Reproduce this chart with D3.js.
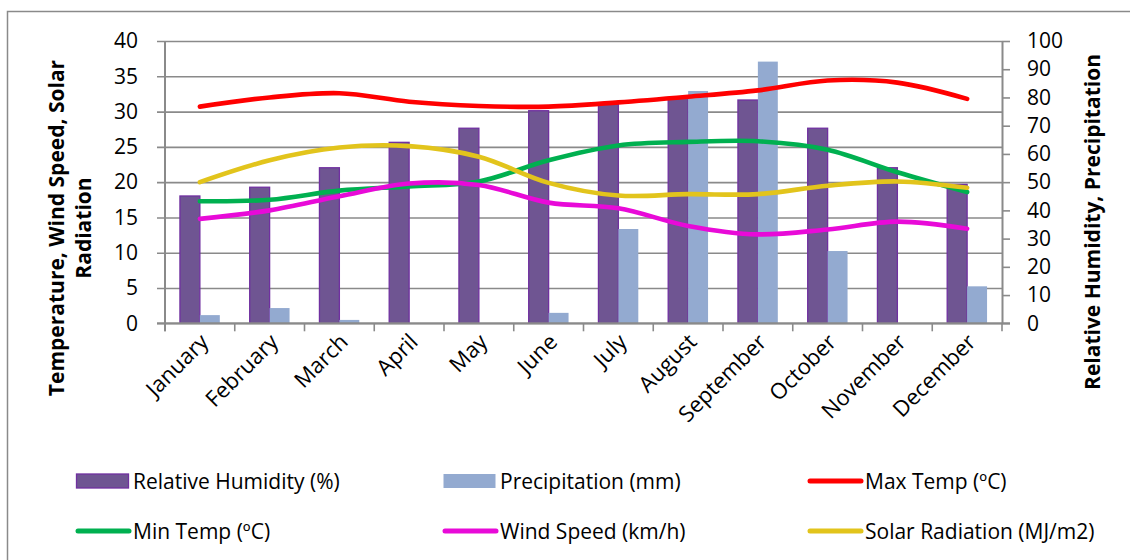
<!DOCTYPE html>
<html>
<head>
<meta charset="utf-8">
<script src="https://cdn.jsdelivr.net/npm/d3@7"></script>
<style>
  html, body { margin: 0; padding: 0; background: #fff; }
  svg { display: block; }
  text { font-family: "Open Sans", Lato, sans-serif; fill: #000; }
</style>
</head>
<body>
<svg id="chart" width="1130" height="560"></svg>
<script>
// Monthly climate data
const months = ["January", "February", "March", "April", "May", "June",
                "July", "August", "September", "October", "November", "December"];

// Right axis (bars)
const humidity      = [45.1, 48.2, 55.1, 64.1, 69.1, 75.3, 77.7, 80.0, 79.1, 69.1, 55.1, 49.2];
const precipitation = [2.9, 5.4, 1.2, 0, 0, 3.7, 33.4, 82.3, 92.7, 25.6, 0, 13.1];

// Left axis (smoothed lines)
const maxTemp = [30.7, 32.0, 32.6, 31.4, 30.8, 30.7, 31.3, 32.1, 33.0, 34.4, 34.1, 31.8];
const minTemp = [17.3, 17.5, 18.8, 19.4, 20.1, 23.1, 25.2, 25.7, 25.8, 24.6, 21.4, 18.6];
const windSpeed = [14.8, 16.0, 18.0, 19.8, 19.6, 17.1, 16.3, 13.8, 12.6, 13.3, 14.4, 13.4];
const solarRad  = [20.0, 23.1, 24.9, 25.1, 23.6, 19.9, 18.1, 18.3, 18.3, 19.5, 20.1, 19.2];

const leftTicks  = [0, 5, 10, 15, 20, 25, 30, 35, 40];
const rightTicks = [0, 10, 20, 30, 40, 50, 60, 70, 80, 90, 100];

const svg = d3.select("#chart");
const W = 1130, H = 560;
const plot = { left: 165, right: 1002, top: 41, bottom: 323.3 };
const gridColor = "#8a8a8a";

// Outer chart frame
svg.append("rect")
  .attr("x", 7.5).attr("y", 11.5)
  .attr("width", W).attr("height", H)
  .attr("fill", "#fff")
  .attr("stroke", "#8a8a8a").attr("stroke-width", 1.5);

const x = d3.scaleBand().domain(months).range([plot.left, plot.right]).paddingInner(0).paddingOuter(0);
const yL = d3.scaleLinear().domain([0, 40]).range([plot.bottom, plot.top]);
const yR = d3.scaleLinear().domain([0, 100]).range([plot.bottom, plot.top]);

// Horizontal gridlines with left tick marks
const leftAxis = d3.axisLeft(yL).tickValues(leftTicks)
  .tickSize(-(plot.right - plot.left)).tickSizeOuter(0).tickPadding(27);
const gL = svg.append("g").attr("transform", `translate(${plot.left},0)`).call(leftAxis);
gL.select(".domain").remove();
gL.selectAll(".tick line")
  .attr("x1", -8).attr("x2", plot.right - plot.left)
  .attr("stroke", gridColor).attr("stroke-width", 1.6);
gL.selectAll(".tick text").attr("font-size", 21).attr("fill", "#000");

// Left axis line
svg.append("line")
  .attr("x1", plot.left).attr("x2", plot.left)
  .attr("y1", plot.top).attr("y2", plot.bottom + 8)
  .attr("stroke", gridColor).attr("stroke-width", 2);

// Right axis
const rightAxis = d3.axisRight(yR).tickValues(rightTicks).tickSize(8).tickSizeOuter(0).tickPadding(17);
const gR = svg.append("g").attr("transform", `translate(${plot.right},0)`).call(rightAxis);
gR.select(".domain").attr("stroke", gridColor).attr("stroke-width", 2);
gR.selectAll(".tick line").attr("stroke", gridColor).attr("stroke-width", 1.6);
gR.selectAll(".tick text").attr("font-size", 21).attr("fill", "#000");

// Bars (right axis)
const barW = x.bandwidth() / 3.5;
const barOff = barW * 0.75;
const bars = svg.append("g");
bars.selectAll("rect.hum").data(months).join("rect")
  .attr("class", "hum")
  .attr("x", d => x(d) + barOff)
  .attr("y", (d, i) => yR(humidity[i]))
  .attr("width", barW)
  .attr("height", (d, i) => yR(0) - yR(humidity[i]))
  .attr("fill", "#6f5592").attr("stroke", "#7030a0").attr("stroke-width", 1.3);
bars.selectAll("rect.pre").data(months).join("rect")
  .attr("class", "pre")
  .attr("x", d => x(d) + barOff + barW)
  .attr("y", (d, i) => yR(precipitation[i]))
  .attr("width", barW)
  .attr("height", (d, i) => yR(0) - yR(precipitation[i]))
  .attr("fill", "#93aad0");

// Category axis
const xAxis = d3.axisBottom(x).tickSize(0).tickFormat("");
const gX = svg.append("g").attr("transform", `translate(0,${plot.bottom})`).call(xAxis);
gX.select(".domain").attr("stroke", gridColor).attr("stroke-width", 2)
  .attr("d", `M${plot.left - 8},0H${plot.right + 8}`);
const bounds = months.map(m => x(m)).concat([plot.right]);
gX.selectAll("line.cat").data(bounds).join("line")
  .attr("class", "cat")
  .attr("x1", d => d).attr("x2", d => d)
  .attr("y1", 0).attr("y2", 8)
  .attr("stroke", gridColor).attr("stroke-width", 1.6);
gX.selectAll("text.cat").data(months).join("text")
  .attr("class", "cat")
  .attr("text-anchor", "end")
  .attr("font-size", 22)
  .attr("transform", d => `translate(${x(d) + x.bandwidth() / 2 + 10},${20}) rotate(-45)`)
  .text(d => d);

// Smoothed lines (left axis)
const series = [
  { name: "Max Temp (ºC)", values: maxTemp, color: "#ff0000" },
  { name: "Min Temp (ºC)", values: minTemp, color: "#00b050" },
  { name: "Wind Speed (km/h)", values: windSpeed, color: "#e80ad8" },
  { name: "Solar Radiation (MJ/m2)", values: solarRad, color: "#e2c41c" }
];
const line = d3.line()
  .x((d, i) => x(months[i]) + x.bandwidth() / 2)
  .y(d => yL(d))
  .curve(d3.curveCardinal.tension(0));
svg.append("g").selectAll("path").data(series).join("path")
  .attr("d", d => line(d.values))
  .attr("fill", "none")
  .attr("stroke", d => d.color)
  .attr("stroke-width", 4.6)
  .attr("stroke-linecap", "round")
  .attr("stroke-linejoin", "round");

// Axis titles
const lt = svg.append("text")
  .attr("transform", "translate(67,228) rotate(-90)")
  .attr("text-anchor", "middle")
  .attr("font-size", 21).attr("font-weight", "bold");
lt.append("tspan").attr("x", 0).attr("dy", "-0.15em").text("Temperature, Wind Speed, Solar");
lt.append("tspan").attr("x", 0).attr("dy", "1.3em").text("Radiation");

svg.append("text")
  .attr("transform", "translate(1100,222) rotate(-90)")
  .attr("text-anchor", "middle")
  .attr("font-size", 21).attr("font-weight", "bold")
  .text("Relative Humidity, Precipitation");

// Legend
const legend = [
  { name: "Relative Humidity (%)", type: "bar", fill: "#6f5592", stroke: "#7030a0" },
  { name: "Precipitation (mm)", type: "bar", fill: "#93aad0", stroke: null },
  { name: series[0].name, type: "line", color: series[0].color },
  { name: series[1].name, type: "line", color: series[1].color },
  { name: series[2].name, type: "line", color: series[2].color },
  { name: series[3].name, type: "line", color: series[3].color }
];
const colX = [76, 443, 808];
const rowY = [481, 531];
const lg = svg.append("g").selectAll("g").data(legend).join("g")
  .attr("transform", (d, i) => `translate(${colX[i % 3]},${rowY[Math.floor(i / 3)]})`);
lg.filter(d => d.type === "bar").append("rect")
  .attr("x", 0.5).attr("y", -7).attr("width", 52).attr("height", 14)
  .attr("fill", d => d.fill)
  .attr("stroke", d => d.stroke || "none").attr("stroke-width", 1.3);
lg.filter(d => d.type === "line").append("line")
  .attr("x1", 2).attr("x2", 53).attr("y1", 0).attr("y2", 0)
  .attr("stroke", d => d.color).attr("stroke-width", 5).attr("stroke-linecap", "round");
lg.append("text")
  .attr("x", 57).attr("y", 0).attr("dy", "0.36em")
  .attr("font-size", 21)
  .text(d => d.name);
</script>
</body>
</html>
